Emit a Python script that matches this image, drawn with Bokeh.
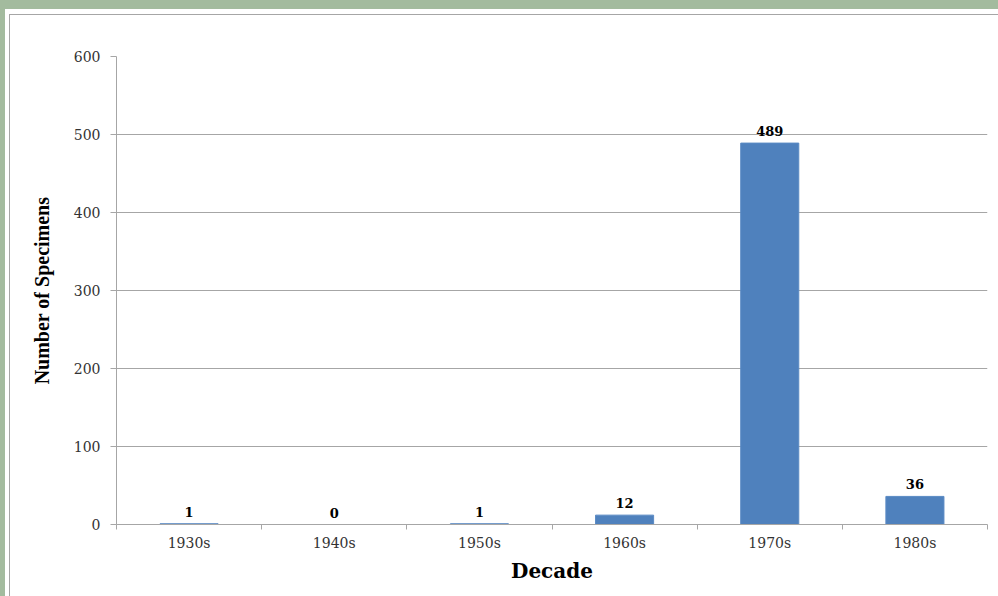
from bokeh.plotting import figure
from bokeh.models import Range1d, FixedTicker, Div, ColumnDataSource
from bokeh.layouts import column, row
from bokeh.core.properties import value
from bokeh.embed import file_html
from bokeh.resources import INLINE

decades = ["1930s", "1940s", "1950s", "1960s", "1970s", "1980s"]
counts = [1, 0, 1, 12, 489, 36]
y_ticks = [0, 100, 200, 300, 400, 500, 600]

GREEN = "#a3bb9e"
GRAY = "#a6a6a6"
SERIF = "DejaVu Serif"
TIMES = "Liberation Serif"

xs = [i + 0.5 for i in range(len(decades))]
src = ColumnDataSource(dict(x=xs, y=counts, label=[str(c) for c in counts]))

p = figure(width=988, height=581, output_backend="svg", toolbar_location=None,
           x_range=Range1d(0, len(decades)), y_range=Range1d(0, 600),
           min_border_left=106, min_border_right=11, min_border_top=41, min_border_bottom=72)
p.outline_line_color = None
p.background_fill_color = "white"
p.border_fill_color = "white"

p.vbar(x="x", top="y", width=0.4, bottom=0, source=src,
       fill_color="#4f81bd", line_color="#5a8ac4", line_width=1)
p.text(x="x", y="y", text="label", source=src, y_offset=-7,
       text_align="center", text_baseline="bottom",
       text_font=value(SERIF), text_font_style="bold", text_font_size="13px",
       text_color="black")

# x axis
xa = p.xaxis[0]
xa.ticker = FixedTicker(ticks=xs, minor_ticks=list(range(len(decades) + 1)))
xa.major_label_overrides = {x: d for x, d in zip(xs, decades)}
xa.major_tick_out = 0
xa.major_tick_in = 0
xa.minor_tick_out = 5
xa.minor_tick_in = 0
xa.minor_tick_line_color = GRAY
xa.axis_line_color = GRAY
xa.major_label_standoff = 5
xa.major_label_text_font = SERIF
xa.major_label_text_font_size = "14px"
xa.major_label_text_color = "#333333"
xa.axis_label = "Decade"
xa.axis_label_text_font = SERIF
xa.axis_label_text_font_style = "bold"
xa.axis_label_text_font_size = "20px"
xa.axis_label_text_color = "black"
xa.axis_label_standoff = 5

# y axis
ya = p.yaxis[0]
ya.ticker = FixedTicker(ticks=y_ticks, minor_ticks=[])
ya.major_tick_out = 6
ya.major_tick_in = 0
ya.major_tick_line_color = GRAY
ya.axis_line_color = GRAY
ya.major_label_standoff = 10
ya.major_label_text_font = SERIF
ya.major_label_text_font_size = "14px"
ya.major_label_text_color = "#333333"
ya.axis_label = "Number of Specimens"
ya.axis_label_text_font = TIMES
ya.axis_label_text_font_style = "bold"
ya.axis_label_text_font_size = "20px"
ya.axis_label_text_color = "black"
ya.axis_label_standoff = 18

p.xgrid.grid_line_color = None
p.ygrid.grid_line_color = GRAY
p.ygrid.ticker = FixedTicker(ticks=y_ticks)


def box(w, h, color):
    return Div(text="", width=w, height=h, margin=0, styles={"background-color": color})


inner = column(box(989, 1, GRAY), row(box(1, 581, GRAY), p, spacing=0), spacing=0)
mid = column(box(993, 5, "white"), row(box(4, 582, "white"), inner, spacing=0), spacing=0)
layout = column(box(998, 9, GREEN), row(box(5, 587, GREEN), mid, spacing=0), spacing=0)

open("out.html", "w").write(file_html(layout, INLINE))
